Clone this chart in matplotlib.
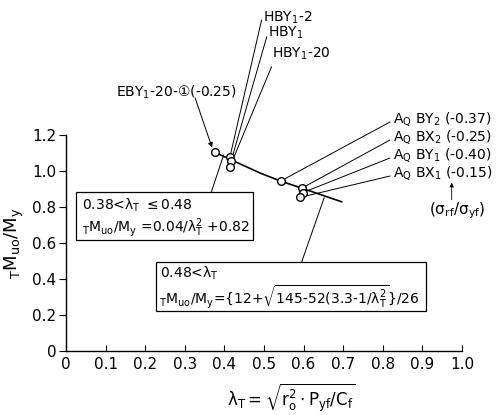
import matplotlib
matplotlib.use("Agg")
import matplotlib.pyplot as plt
from matplotlib.patches import Rectangle

plt.rcParams["font.family"] = ["DejaVu Sans", "Noto Sans CJK JP"]
plt.rcParams["mathtext.default"] = "regular"

# Design curve (0.38 < lambda <= 0.48 and 0.48 < lambda branches)
curve_lam = [0.375, 0.414, 0.490, 0.542, 0.595, 0.696]
curve_m = [1.105, 1.065, 0.989, 0.944, 0.905, 0.829]

# Test specimens
eby_lam = [0.376]
eby_m = [1.103]
eby_label = "EBY$_1$-20-①(-0.25)"

hby_lam = [0.414, 0.417, 0.414]
hby_m = [1.079, 1.056, 1.024]
hby_labels = ["HBY$_1$-2", "HBY$_1$", "HBY$_1$-20"]

aq_lam = [0.542, 0.595, 0.598, 0.592]
aq_m = [0.944, 0.904, 0.880, 0.854]
aq_labels = ["A$_Q$ BY$_2$ (-0.37)", "A$_Q$ BX$_2$ (-0.25)",
             "A$_Q$ BY$_1$ (-0.40)", "A$_Q$ BX$_1$ (-0.15)"]

x_ticks = [0, 0.1, 0.2, 0.3, 0.4, 0.5, 0.6, 0.7, 0.8, 0.9, 1.0]
x_ticklabels = ["0", "0.1", "0.2", "0.3", "0.4", "0.5", "0.6", "0.7", "0.8", "0.9", "1.0"]
y_ticks = [0, 0.2, 0.4, 0.6, 0.8, 1.0, 1.2]
y_ticklabels = ["0", "0.2", "0.4", "0.6", "0.8", "1.0", "1.2"]

fig = plt.figure(figsize=(5.04, 4.15), dpi=100)
ax = fig.add_axes([66 / 504, 64 / 415, 396 / 504, 216 / 415])
ax.set_xlim(0, 1.0)
ax.set_ylim(0, 1.2)
for s in ("top", "right"):
    ax.spines[s].set_visible(False)
for s in ("left", "bottom"):
    ax.spines[s].set_linewidth(1.0)

ax.set_xticks(x_ticks)
ax.set_xticklabels(x_ticklabels)
ax.set_yticks(y_ticks)
ax.set_yticklabels(y_ticklabels)
ax.tick_params(axis="x", direction="in", length=4, width=0.8, labelsize=11, pad=4)
ax.tick_params(axis="y", direction="out", length=5, width=0.8, labelsize=11, pad=2)

ax.set_ylabel("${}_T$M$_{uo}$/M$_y$", fontsize=13, labelpad=4)
ax.text(0.57, -0.26, r"$\lambda_T=\sqrt{r_o^2 \cdot P_{yf}/C_f}$",
        fontsize=12, ha="center", va="center", clip_on=False)

# Curve and specimens
ax.plot(curve_lam, curve_m, color="black", lw=1.2, zorder=3, clip_on=False)
mk = dict(marker="o", ms=5.5, mfc="white", mec="black", mew=1.0, ls="none", zorder=4,
          clip_on=False)
ax.plot(eby_lam, eby_m, **mk)
ax.plot(hby_lam, hby_m, **mk)
ax.plot(aq_lam, aq_m, **mk)

lead = dict(arrowstyle="-", color="black", lw=0.7, shrinkA=0, shrinkB=3)

# HBY labels
hby_text_pos = [(0.497, 1.85), (0.510, 1.767), (0.520, 1.65)]
hby_line_start = [(0.494, 1.839), (0.507, 1.746), (0.519, 1.579)]
for lab, tp, ls_, x, y in zip(hby_labels, hby_text_pos, hby_line_start, hby_lam, hby_m):
    ax.text(tp[0], tp[1], lab, fontsize=10, ha="left", va="center", clip_on=False)
    ax.annotate("", xy=(x, y), xytext=ls_, arrowprops=lead, annotation_clip=False)

# EBY label with arrow
ax.text(0.429, 1.439, eby_label, fontsize=10, ha="right", va="center", clip_on=False)
ax.annotate("", xy=(eby_lam[0] - 0.006, eby_m[0] + 0.02), xytext=(0.326, 1.406),
            arrowprops=dict(arrowstyle="-|>", color="black", lw=0.7,
                            mutation_scale=7, shrinkA=0, shrinkB=1),
            annotation_clip=False)

# A_Q labels
aq_text_y = [1.289, 1.189, 1.089, 0.989]
for lab, ty, x, y in zip(aq_labels, aq_text_y, aq_lam, aq_m):
    ax.text(0.826, ty, lab, fontsize=10, ha="left", va="center", clip_on=False)
    ax.annotate("", xy=(x, y), xytext=(0.818, ty - 0.017), arrowprops=lead,
                annotation_clip=False)

ax.text(0.987, 0.778, r"($\sigma_{rf}$/$\sigma_{yf}$)", fontsize=11, ha="center",
        va="center", clip_on=False)
ax.annotate("", xy=(0.974, 0.935), xytext=(0.974, 0.84),
            arrowprops=dict(arrowstyle="-|>", color="black", lw=0.6, mutation_scale=6,
                            shrinkA=0, shrinkB=0), annotation_clip=False)

# Formula boxes
ax.add_patch(Rectangle((0.025, 0.617), 0.447, 0.266, fill=True, fc="white",
                       ec="black", lw=0.9, zorder=5, clip_on=False))
ax.text(0.040, 0.811, r"0.38<$\lambda_T$ $\leq$0.48", fontsize=10, va="center",
        zorder=6, clip_on=False)
ax.text(0.040, 0.685, r"${}_T$M$_{uo}$/M$_y$ =0.04/$\lambda_T^2$ +0.82", fontsize=10,
        va="center", zorder=6, clip_on=False)
ax.annotate("", xy=(0.398, 1.089), xytext=(0.367, 0.883), arrowprops=dict(lead, shrinkB=0),
            annotation_clip=False)

ax.add_patch(Rectangle((0.227, 0.222), 0.682, 0.272, fill=True, fc="white",
                       ec="black", lw=0.9, zorder=5, clip_on=False))
ax.text(0.237, 0.432, r"0.48<$\lambda_T$", fontsize=10, va="center", zorder=6,
        clip_on=False)
ax.text(0.235, 0.300,
        r"${}_T$M$_{uo}$/M$_y$={12+$\sqrt{145\text{-}52(3.3\text{-}1/\lambda_T^2}$}/26",
        fontsize=10, va="center", zorder=6, clip_on=False)
ax.annotate("", xy=(0.652, 0.852), xytext=(0.595, 0.494), arrowprops=dict(lead, shrinkB=0),
            annotation_clip=False)

fig.savefig("out.png", dpi=100)
